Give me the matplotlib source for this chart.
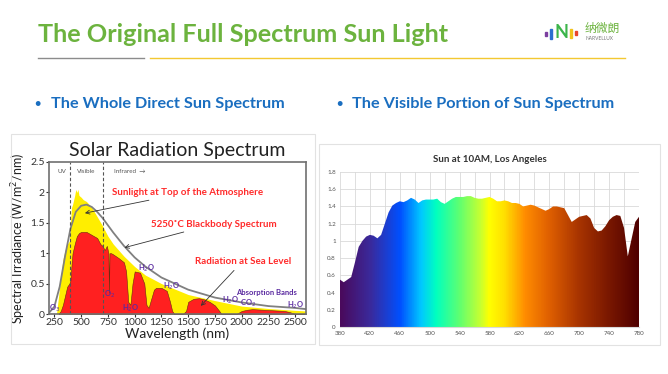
import matplotlib
matplotlib.use("Agg")
import matplotlib.pyplot as plt
import numpy as np
from matplotlib.colors import LinearSegmentedColormap
from matplotlib.patches import Rectangle

plt.rcParams['font.family'] = ['Lato', 'Noto Sans CJK SC', 'DejaVu Sans']

W, H = 668, 374

# --- left chart: solar radiation spectrum ---
bb_wl = [200, 250, 300, 350, 400, 450, 500, 550, 600, 650, 700, 750, 800, 900,
         1000, 1100, 1250, 1500, 1750, 2000, 2250, 2500, 2600]
bb_val = [0.02, 0.12, 0.45, 0.95, 1.40, 1.68, 1.78, 1.80, 1.76, 1.68, 1.58, 1.46,
          1.34, 1.12, 0.93, 0.78, 0.60, 0.40, 0.27, 0.19, 0.13, 0.10, 0.08]

toa_wl = [270, 290, 310, 330, 350, 370, 390, 400, 410, 420, 440, 450, 460, 470,
          480, 500, 520, 550, 600, 650, 700, 750, 800, 900, 1000, 1100, 1250,
          1500, 1750, 2000, 2250, 2500, 2600]
toa_val = [0.0, 0.3, 0.6, 0.9, 1.05, 1.15, 1.2, 1.5, 1.75, 1.8, 1.95, 2.05, 2.0,
           2.05, 1.95, 1.92, 1.88, 1.85, 1.75, 1.6, 1.45, 1.28, 1.15, 0.95, 0.78,
           0.64, 0.5, 0.32, 0.22, 0.13, 0.09, 0.06, 0.05]

sea_wl = [290, 310, 330, 350, 370, 390, 400, 410, 420, 440, 460, 480, 500, 550,
          600, 650, 680, 700, 720, 740, 755, 760, 765, 780, 800, 850, 900, 920,
          940, 960, 980, 1000, 1050, 1090, 1110, 1130, 1150, 1180, 1200, 1250,
          1300, 1330, 1350, 1370, 1450, 1480, 1500, 1550, 1600, 1650, 1700,
          1750, 1790, 1810, 1950, 1980, 2000, 2050, 2100, 2200, 2300, 2400,
          2450, 2500, 2600]
sea_val = [0.0, 0.05, 0.15, 0.3, 0.45, 0.5, 0.55, 0.8, 1.0, 1.15, 1.28, 1.33,
           1.35, 1.35, 1.3, 1.25, 1.15, 1.12, 1.05, 1.12, 1.0, 0.35, 1.0, 1.0,
           0.98, 0.92, 0.85, 0.7, 0.2, 0.15, 0.5, 0.7, 0.68, 0.5, 0.15, 0.1,
           0.22, 0.4, 0.43, 0.43, 0.38, 0.2, 0.05, 0.0, 0.0, 0.05, 0.2, 0.25,
           0.26, 0.24, 0.2, 0.14, 0.05, 0.0, 0.0, 0.03, 0.05, 0.07, 0.08, 0.07,
           0.06, 0.05, 0.03, 0.0, 0.0]

gas_labels = [("O$_3$", 255, 0.1), ("O$_2$", 765, 0.32), ("H$_2$O", 960, 0.1),
              ("H$_2$O", 1110, 0.75), ("H$_2$O", 1350, 0.46), ("H$_2$O", 1900, 0.22),
              ("CO$_2$", 2060, 0.17), ("H$_2$O", 2500, 0.15)]

# --- right chart: sun at 10AM, Los Angeles ---
vis_wl = [380, 385, 390, 395, 400, 405, 410, 415, 420, 425, 430, 435, 440, 445,
          450, 455, 460, 465, 470, 475, 480, 485, 490, 495, 500, 505, 510, 515,
          520, 525, 530, 535, 540, 545, 550, 555, 560, 565, 570, 575, 580, 585,
          590, 595, 600, 605, 610, 615, 620, 625, 630, 635, 640, 645, 650, 655,
          660, 665, 670, 675, 680, 685, 690, 695, 700, 705, 710, 715, 720, 725,
          730, 735, 740, 745, 750, 755, 760, 765, 770, 775, 780]
vis_val = [0.55, 0.52, 0.55, 0.58, 0.75, 0.93, 1.00, 1.05, 1.07, 1.06, 1.03,
           1.07, 1.20, 1.33, 1.41, 1.44, 1.46, 1.45, 1.47, 1.50, 1.48, 1.44,
           1.47, 1.48, 1.48, 1.48, 1.49, 1.45, 1.43, 1.46, 1.49, 1.51, 1.51,
           1.51, 1.52, 1.52, 1.50, 1.49, 1.49, 1.50, 1.51, 1.49, 1.46, 1.46,
           1.47, 1.46, 1.44, 1.44, 1.43, 1.40, 1.41, 1.42, 1.41, 1.39, 1.37,
           1.35, 1.37, 1.40, 1.40, 1.39, 1.38, 1.30, 1.22, 1.25, 1.28, 1.29,
           1.30, 1.26, 1.15, 1.11, 1.12, 1.17, 1.24, 1.28, 1.30, 1.29, 1.15,
           0.82, 1.02, 1.22, 1.28]
vis_ticks = [380, 420, 460, 500, 540, 580, 620, 660, 700, 740, 780]

spec_colors = [(0.0, "#4a0a5c"), (0.1, "#3a2a9c"), (0.2, "#0050ff"),
               (0.27, "#00c8ff"), (0.32, "#00ffc0"), (0.4, "#60ff70"),
               (0.47, "#c8ff30"), (0.5, "#ffff00"), (0.55, "#ffe000"),
               (0.62, "#ff8c00"), (0.7, "#e06000"), (0.8, "#a83400"),
               (0.9, "#7a1800"), (1.0, "#500000")]


def px_axes(fig, x0, y0, x1, y1, **kw):
    return fig.add_axes([x0 / W, 1 - y1 / H, (x1 - x0) / W, (y1 - y0) / H], **kw)


def fx(x):
    return x / W


def fy(y):
    return 1 - y / H


fig = plt.figure(figsize=(W / 100, H / 100), dpi=100)
fig.patch.set_facecolor("white")

# header
fig.text(fx(38), fy(34), "The Original Full Spectrum Sun Light", color="#6cb33e",
         fontsize=18.2, fontweight="bold", va="center", ha="left")
fig.add_artist(plt.Line2D([fx(38), fx(144)], [fy(58)] * 2, color="#8c8c8c", lw=1))
fig.add_artist(plt.Line2D([fx(150), fx(625)], [fy(58)] * 2, color="#f3c832", lw=1))

# logo
fig.add_artist(Rectangle((fx(545), fy(36)), fx(2), 4 / H, color="#7b3fa0"))
fig.add_artist(Rectangle((fx(550), fy(39)), fx(2.2), 10 / H, color="#2b6fd0"))
fig.text(fx(555), fy(33), "N", color="#3cb54a", fontsize=13, fontweight="bold",
         va="center", ha="left")
fig.add_artist(Rectangle((fx(570), fy(38)), fx(2.2), 9 / H, color="#f2c21b"))
fig.add_artist(Rectangle((fx(575), fy(35)), fx(2), 4 / H, color="#e8452c"))
fig.text(fx(585), fy(28), "纳微朗", color="#6cb33e", fontsize=8.5,
         va="center", ha="left", family=['Noto Sans CJK SC', 'DejaVu Sans'])
fig.text(fx(585), fy(39), "NARVELLUX", color="#777777", fontsize=3.5,
         va="center", ha="left")

# bullets
blue = "#1a6ec0"
fig.text(fx(34), fy(104), "•", color=blue, fontsize=8, fontweight="bold", va="center")
fig.text(fx(51), fy(104), "The Whole Direct Sun Spectrum", color=blue,
         fontsize=11.7, fontweight="bold", va="center")
fig.text(fx(336), fy(104), "•", color=blue, fontsize=8, fontweight="bold", va="center")
fig.text(fx(352), fy(104), "The Visible Portion of Sun Spectrum", color=blue,
         fontsize=11.7, fontweight="bold", va="center")

# panel frames
for (x0, y0, x1, y1) in [(11, 134, 315, 344), (319, 144, 660, 345)]:
    fig.add_artist(Rectangle((fx(x0), fy(y1)), fx(x1 - x0), (y1 - y0) / H,
                             fill=False, edgecolor="#e2e2e2", lw=0.8))

# ---- left chart ----
ax = px_axes(fig, 49, 162, 306, 314)
ax.fill_between(toa_wl, toa_val, color="#ffee00", lw=0)
ax.fill_between(sea_wl, sea_val, color="#ff2020", edgecolor="#6a2a10", lw=0.4)
ax.plot(bb_wl, bb_val, color="#808080", lw=1.3)
for xv in (400, 700):
    ax.axvline(xv, color="#555555", ls=(0, (3, 2)), lw=0.8)
ax.set_xlim(200, 2600)
ax.set_ylim(0, 2.5)
ax.set_xticks([250, 500, 750, 1000, 1250, 1500, 1750, 2000, 2250, 2500])
ax.set_yticks([0, 0.5, 1, 1.5, 2, 2.5])
ax.set_yticklabels(["0", "0.5", "1", "1.5", "2", "2.5"])
ax.tick_params(labelsize=7.5, length=2, pad=1, colors="#333333")
for s in ax.spines.values():
    s.set_color("#707070")
    s.set_linewidth(1.2)
ax.set_xlabel("Wavelength (nm)", fontsize=10, labelpad=0, color="#222222")
ax.set_ylabel("Spectral Irradiance (W/m$^2$/nm)", fontsize=9, labelpad=2, color="#222222")
ax.set_title("Solar Radiation Spectrum", fontsize=14, pad=4, color="#222222")
ax.text(320, 2.35, "UV", fontsize=4.5, color="#555555", ha="center", va="center")
ax.text(550, 2.35, "Visible", fontsize=4.5, color="#555555", ha="center", va="center")
ax.text(950, 2.35, "Infrared  \u2192", fontsize=4.5, color="#555555", ha="center", va="center")
red_kw = dict(fontsize=7, color="#ff2a2a", fontweight="bold", va="center")
ax.annotate("Sunlight at Top of the Atmosphere", xy=(510, 1.65), xytext=(790, 2.0),
            arrowprops=dict(arrowstyle="->", color="#333333", lw=0.6), **red_kw)
ax.annotate("5250˚C Blackbody Spectrum", xy=(880, 1.08), xytext=(1155, 1.48),
            arrowprops=dict(arrowstyle="->", color="#333333", lw=0.6), **red_kw)
ax.annotate("Radiation at Sea Level", xy=(1600, 0.1), xytext=(1560, 0.87),
            arrowprops=dict(arrowstyle="->", color="#333333", lw=0.6), **red_kw)
for lab, xv, yv in gas_labels:
    ax.text(xv, yv, lab, fontsize=5.5, color="#5a2aa0", fontweight="bold",
            ha="center", va="center")
ax.text(2230, 0.35, "Absorption Bands", fontsize=5.5, color="#5a2aa0",
        fontweight="bold", ha="center", va="center")

# ---- right chart ----
bx = px_axes(fig, 340, 172, 639, 327)
cmap = LinearSegmentedColormap.from_list("spec", spec_colors)
grad = np.linspace(0, 1, 400).reshape(1, -1)
im = bx.imshow(grad, cmap=cmap, aspect="auto", extent=(380, 780, 0, 1.8),
               origin="lower", zorder=2)
poly = bx.fill_between(vis_wl, vis_val, color="none", lw=0)
im.set_clip_path(poly.get_paths()[0], transform=bx.transData)
bx.set_xlim(380, 780)
bx.set_ylim(0, 1.8)
bx.set_xticks(vis_ticks)
bx.set_xticks(np.arange(380, 781, 20), minor=True)
bx.set_yticks(np.arange(0, 1.81, 0.2))
bx.set_yticklabels(["0", "0.2", "0.4", "0.6", "0.8", "1", "1.2", "1.4", "1.6", "1.8"])
bx.grid(True, which="both", color="#d9d9d9", lw=0.6, zorder=0)
bx.set_axisbelow(True)
bx.tick_params(which="both", length=0, labelsize=4.5, colors="#555555", pad=3)
for s in bx.spines.values():
    s.set_visible(False)
bx.spines["bottom"].set_visible(True)
bx.spines["bottom"].set_color("#d9d9d9")
bx.set_title("Sun at 10AM, Los Angeles", fontsize=7, fontweight="bold",
             color="#333333", pad=7)

fig.savefig("out.png", dpi=100)
